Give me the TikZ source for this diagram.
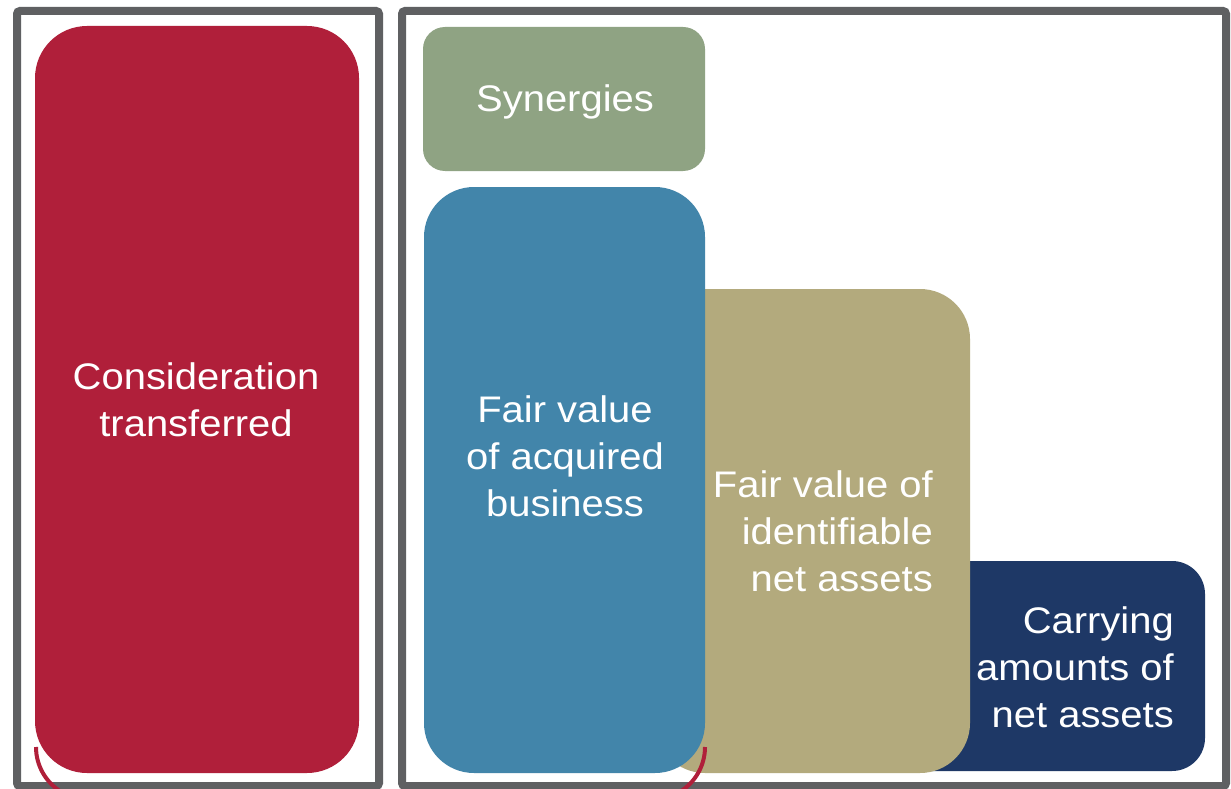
\documentclass[tikz,border=0pt]{standalone}
\usepackage{fontspec}
\usepackage{graphicx}
\setmainfont{Liberation Sans}
\definecolor{cred}{RGB}{176,31,58}
\definecolor{cgreen}{RGB}{143,163,131}
\definecolor{cblue}{RGB}{66,133,170}
\definecolor{ctan}{RGB}{179,170,125}
\definecolor{cnavy}{RGB}{30,56,102}
\definecolor{cgray}{RGB}{95,96,98}
\newcommand{\wtxt}[2]{\scalebox{1.08}[1]{\begin{tabular}[t]{@{}#1@{}}#2\end{tabular}}}
\begin{document}
\begin{tikzpicture}[x=1pt,y=-1pt,
  frame/.style={draw=cgray,line width=8pt,rounded corners=3pt},
  lbl/.style={text=white,inner sep=0pt,font=\fontsize{37}{47}\selectfont},
  arcline/.style={draw=cred,line width=4pt}]
\useasboundingbox (0,0) rectangle (1231,789);
\clip (0,0) rectangle (1231,789);
\fill[white] (0,0) rectangle (1231,789);
% frames
\draw[frame] (17,11) rectangle (379,786);
\draw[frame] (402,11) rectangle (1226,786);
% boxes
\fill[cred,rounded corners=52pt] (35,26) rectangle (359,773);
\fill[cnavy,rounded corners=33pt] (890,561) rectangle (1205,771);
\fill[ctan,rounded corners=50pt] (655,289) rectangle (970,773);
\fill[cblue,rounded corners=50pt] (424,187) rectangle (705,773);
\fill[cgreen,rounded corners=22pt] (423,27) rectangle (705,171);
% arcs
\draw[arcline] (36,747) arc[start angle=180,end angle=240,radius=52.5pt];
\draw[arcline] (705,747) arc[start angle=0,end angle=-60,radius=52.5pt];
% labels
\node[lbl,anchor=base] (cons) at (196,389) {\wtxt{c}{Consideration\\transferred}};
\node[lbl,anchor=base] (syn) at (565,112) {\wtxt{c}{Synergies}};
\node[lbl,anchor=base] (fvab) at (565,422) {\wtxt{c}{Fair value\\of acquired\\business}};
\node[lbl,anchor=base east] (fvin) at (933,497) {\wtxt{r}{Fair value of\\identifiable\\net assets}};
\node[lbl,anchor=base east] (carr) at (1174,633) {\wtxt{r}{Carrying\\amounts of\\net assets}};
\end{tikzpicture}
\end{document}
